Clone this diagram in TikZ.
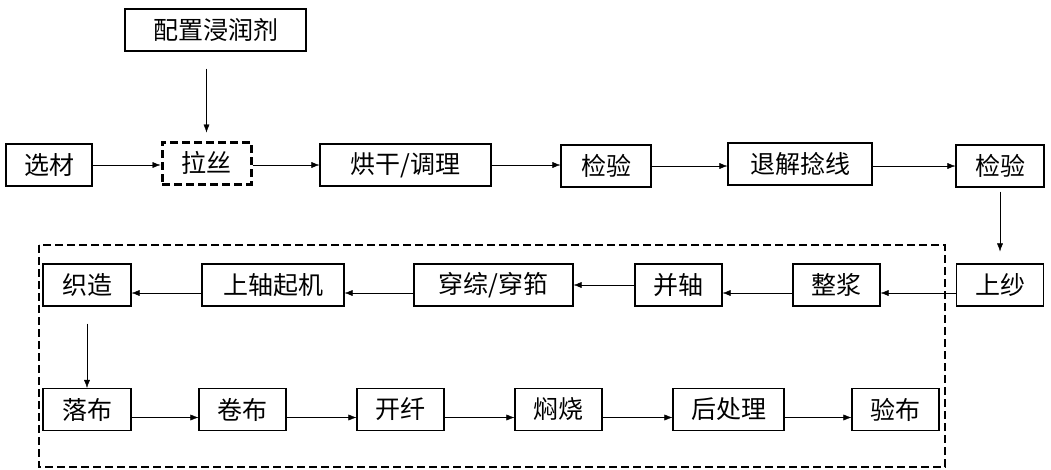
\documentclass[tikz,border=0pt]{standalone}
\usepackage{fontspec}
\newfontfamily\cjk{Noto Sans CJK SC}
\usetikzlibrary{arrows.meta}
\tikzset{%
  procnode/.style   = {shape=rectangle, draw, line width=1.1pt,%
                       minimum height=42pt, minimum width=#1, inner sep=0pt,%
                       font=\cjk\fontsize{25}{29}\selectfont},%
  procnode/.default = 87pt,%
  keynode/.style    = {procnode=#1, line width=3pt, dash pattern=on 8pt off 4pt},%
  keynode/.default  = 89pt,%
  loopframe/.style  = {draw, line width=1.4pt, dash pattern=on 8pt off 4pt}%
}
\begin{document}
\begin{tikzpicture}[x=1pt,y=-1pt,>={Latex[length=8pt,width=6pt]}]
	\useasboundingbox (0,0) rectangle (1051,469);
	\node [procnode=181pt] (cfg) at (215.5,30) {配置浸润剂};
	\node [procnode=86pt] (xc) at (49,165) {选材};
	\node [keynode] (ls) at (206.5,163) {拉丝};
	\node [procnode=171pt] (hg) at (405.5,165) {烘干/调理};
	\node [procnode=90pt] (jy1) at (606,166) {检验};
	\node [procnode=144pt] (tj) at (800,164) {退解捻线};
	\node [procnode=88pt] (jy2) at (1000,166) {检验};
	\node [procnode] (ss) at (1000,285) {上纱};
	\node [procnode] (zj) at (836.5,285) {整浆};
	\node [procnode] (bz) at (678.5,285) {并轴};
	\node [procnode=159pt] (cz) at (493.5,285) {穿综/穿筘};
	\node [procnode=142pt] (sz) at (273,285) {上轴起机};
	\node [procnode=88pt] (zz) at (87,285) {织造};
	\node [procnode=88pt] (lb) at (87,409.5) {落布};
	\node [procnode] (jb) at (242.5,409.5) {卷布};
	\node [procnode] (kx) at (400.5,409.5) {开纤};
	\node [procnode] (mf) at (558.5,409.5) {焖烧};
	\node [procnode=111pt] (hc) at (728.5,409.5) {后处理};
	\node [procnode] (yb) at (895.5,409.5) {验布};
	\draw [loopframe] (39,245) rectangle (945,467);
	\draw [->, shorten <=17pt, shorten >=8pt] (cfg.south -| ls.north) -- (ls.north);
	\draw [->] (xc.east) -- (xc.east -| ls.west);
	\draw [->] (ls.east |- hg.west) -- (hg.west);
	\draw [->] (hg.east) -- (hg.east -| jy1.west);
	\draw [->] (jy1.east) -- (jy1.east -| tj.west);
	\draw [->] (tj.east |- jy2.west) -- (jy2.west);
	\draw [->, shorten <=4pt, shorten >=12pt] (jy2.south) -- (ss.north);
	\draw [->] ([yshift=-8pt]ss.west) -- ([yshift=-8pt]zj.east);
	\draw [->] ([yshift=-8pt]zj.west) -- ([yshift=-8pt]bz.east);
	\draw [->] (bz.west) -- (cz.east);
	\draw [->] ([yshift=-8pt]cz.west) -- ([yshift=-8pt]sz.east);
	\draw [->] ([yshift=-8pt]sz.west) -- ([yshift=-8pt]zz.east);
	\draw [->, shorten <=17pt] (zz.south) -- (lb.north);
	\foreach \a/\b in {lb/jb,jb/kx,kx/mf,mf/hc,hc/yb}
		\draw [->] ([yshift=-8pt]\a.east) -- ([yshift=-8pt]\b.west);
\end{tikzpicture}
\end{document}
